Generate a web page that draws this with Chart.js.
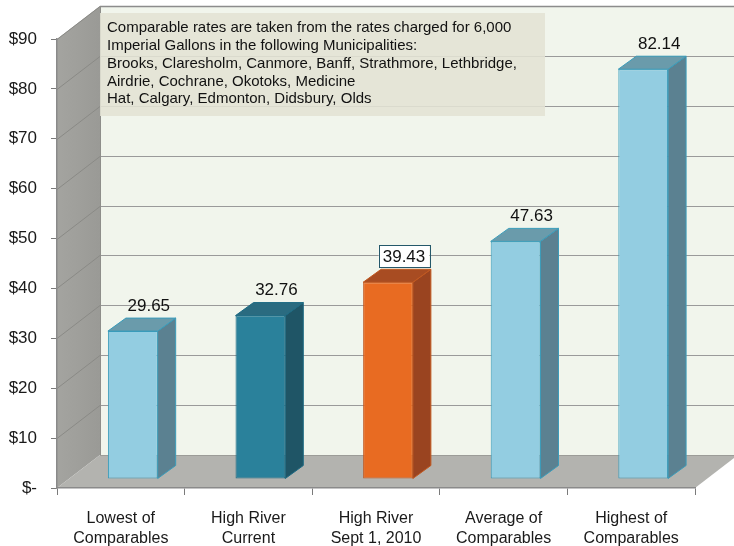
<!DOCTYPE html>
<html>
<head>
<meta charset="utf-8">
<script src="https://cdn.jsdelivr.net/npm/chart.js@4.4.1/dist/chart.umd.min.js"></script>
<style>
html, body { margin: 0; padding: 0; background: #fff; }
canvas { display: block; }
</style>
</head>
<body>
<canvas id="chart" width="734" height="546"></canvas>
<script>
const categories = [
    ["Lowest of", "Comparables"],
    ["High River", "Current"],
    ["High River", "Sept 1, 2010"],
    ["Average of", "Comparables"],
    ["Highest of", "Comparables"]
];
const rates = [29.65, 32.76, 39.43, 47.63, 82.14];
const yMax = 90;
const yStep = 10;
const noteLines = [
    "Comparable rates are taken from the rates charged for 6,000",
    "Imperial Gallons in the following Municipalities:",
    "Brooks, Claresholm, Canmore, Banff, Strathmore, Lethbridge,",
    "Airdrie, Cochrane, Okotoks, Medicine",
    "Hat, Calgary, Edmonton, Didsbury, Olds"
];
const boxedLabel = 2; // the proposed rate gets a framed label

const frontColors = ['#93cde1', '#2a819b', '#e86b22', '#93cde1', '#93cde1'];
const sideColors = ['#5b8191', '#1f5566', '#9a4420', '#5b8191', '#5b8191'];
const topColors = ['#6a9bab', '#2a6b80', '#a84c22', '#6a9bab', '#6a9bab'];
const edgeColors = ['#3a9cba', '#1d6a83', '#c2581f', '#3a9cba', '#3a9cba'];

const FONT = "'Liberation Sans', Arial, sans-serif";

// depth of the box (walls) and of the bars
const WALL_DX = 43, WALL_DY = -33;
const BAR_SHIFT_X = 12, BAR_SHIFT_Y = -9;
const BAR_DX = 18, BAR_DY = -13;

function poly(ctx, pts, fill, stroke) {
    ctx.beginPath();
    ctx.moveTo(pts[0][0], pts[0][1]);
    for (let i = 1; i < pts.length; i++) ctx.lineTo(pts[i][0], pts[i][1]);
    ctx.closePath();
    if (fill) { ctx.fillStyle = fill; ctx.fill(); }
    if (stroke) { ctx.strokeStyle = stroke; ctx.lineWidth = 1; ctx.stroke(); }
}

const box3d = {
    id: 'box3d',
    beforeDraw: function (chart) {
        const ctx = chart.ctx;
        const a = chart.chartArea;
        const y = chart.scales.y;
        const W = chart.width;

        ctx.save();
        // back wall
        ctx.fillStyle = '#f1f5ec';
        ctx.fillRect(a.left + WALL_DX, a.top + WALL_DY, W - a.left - WALL_DX, a.bottom - a.top);

        // left wall
        let g = ctx.createLinearGradient(a.left, 0, a.left + WALL_DX, 0);
        g.addColorStop(0, '#a4a4a0');
        g.addColorStop(1, '#9a9a96');
        poly(ctx, [[a.left, a.top], [a.left + WALL_DX, a.top + WALL_DY],
            [a.left + WALL_DX, a.bottom + WALL_DY], [a.left, a.bottom]], g);

        // floor
        poly(ctx, [[a.left, a.bottom], [a.left + WALL_DX, a.bottom + WALL_DY],
            [a.right + WALL_DX, a.bottom + WALL_DY], [a.right, a.bottom]], '#b3b3af');
        ctx.strokeStyle = '#9c9c98';
        ctx.lineWidth = 1;
        ctx.beginPath();
        ctx.moveTo(a.left + WALL_DX, a.bottom + WALL_DY + 0.5);
        ctx.lineTo(W, a.bottom + WALL_DY + 0.5);
        ctx.stroke();

        // gridlines on back and left walls
        y.ticks.forEach(function (t) {
            if (t.value <= 0) return;
            const py = Math.round(y.getPixelForValue(t.value)) + 0.5;
            ctx.strokeStyle = t.value >= yMax ? '#8c8c8c' : '#9a9a9a';
            ctx.lineWidth = t.value >= yMax ? 1.5 : 1;
            ctx.beginPath();
            ctx.moveTo(a.left + WALL_DX, py + WALL_DY);
            ctx.lineTo(W, py + WALL_DY);
            ctx.stroke();
            ctx.strokeStyle = '#8a8a86';
            ctx.lineWidth = 1;
            ctx.beginPath();
            ctx.moveTo(a.left, py);
            ctx.lineTo(a.left + WALL_DX, py + WALL_DY);
            ctx.stroke();
        });
        // edge between left and back wall
        ctx.strokeStyle = '#8e8e8a';
        ctx.beginPath();
        ctx.moveTo(a.left + WALL_DX + 0.5, a.top + WALL_DY);
        ctx.lineTo(a.left + WALL_DX + 0.5, a.bottom + WALL_DY);
        ctx.stroke();
        ctx.restore();
    },
    beforeDatasetsDraw: function (chart) {
        const ctx = chart.ctx;
        const a = chart.chartArea;

        // note panel on the back wall
        const bx = a.left + WALL_DX, by = a.top + WALL_DY + 7;
        ctx.save();
        ctx.fillStyle = 'rgba(226, 226, 212, 0.88)';
        ctx.fillRect(bx, by, 445, 103);
        ctx.fillStyle = '#111';
        ctx.font = '15px ' + FONT;
        ctx.textBaseline = 'middle';
        noteLines.forEach(function (line, i) {
            ctx.fillText(line, bx + 7, by + 15 + i * 17.8);
        });
        ctx.restore();

        // bars sit in the middle of the floor depth
        ctx.save();
        ctx.translate(BAR_SHIFT_X, BAR_SHIFT_Y);
    },
    afterDatasetsDraw: function (chart) {
        const ctx = chart.ctx;
        const meta = chart.getDatasetMeta(0);
        meta.data.forEach(function (el, i) {
            const half = el.width / 2;
            const l = el.x - half, r = el.x + half, t = el.y, b = el.base;
            poly(ctx, [[r, t], [r + BAR_DX, t + BAR_DY], [r + BAR_DX, b + BAR_DY], [r, b]],
                sideColors[i], edgeColors[i]);
            poly(ctx, [[l, t], [l + BAR_DX, t + BAR_DY], [r + BAR_DX, t + BAR_DY], [r, t]],
                topColors[i], edgeColors[i]);
        });

        ctx.font = '17px ' + FONT;
        ctx.textAlign = 'center';
        ctx.textBaseline = 'middle';
        meta.data.forEach(function (el, i) {
            const lx = el.x + 16;
            const ly = el.y + BAR_DY - 13;
            const text = rates[i].toFixed(2);
            if (i === boxedLabel) {
                const w = ctx.measureText(text).width + 8;
                ctx.fillStyle = '#ffffff';
                ctx.fillRect(lx - w / 2, ly - 11, w, 22);
                ctx.strokeStyle = '#24586a';
                ctx.lineWidth = 1;
                ctx.strokeRect(Math.round(lx - w / 2) + 0.5, Math.round(ly - 11) + 0.5, Math.round(w), 22);
            }
            ctx.fillStyle = '#111';
            ctx.fillText(text, lx, ly + 1);
        });
        ctx.restore();
    }
};

new Chart(document.getElementById('chart'), {
    type: 'bar',
    data: {
        labels: categories,
        datasets: [{
            data: rates,
            backgroundColor: frontColors,
            borderColor: edgeColors,
            borderWidth: 1,
            borderSkipped: false,
            categoryPercentage: 1,
            barPercentage: 0.39
        }]
    },
    options: {
        responsive: false,
        animation: false,
        layout: { padding: { top: 39, right: 39, left: 0, bottom: 0 } },
        plugins: {
            legend: { display: false },
            tooltip: { enabled: false }
        },
        scales: {
            x: {
                grid: { drawOnChartArea: false, tickLength: 7, color: '#7a7a7a' },
                border: { color: '#8a8a8a', width: 1.5 },
                ticks: {
                    color: '#1a1a1a',
                    font: { family: FONT, size: 16, lineHeight: 1.25 },
                    padding: 14,
                    maxRotation: 0
                },
                afterFit: function (scale) { scale.height = 58; }
            },
            y: {
                min: 0,
                max: yMax,
                grid: { drawOnChartArea: false, tickLength: 6, color: '#7a7a7a' },
                border: { color: '#8a8a8a', width: 1.5 },
                ticks: {
                    stepSize: yStep,
                    color: '#1a1a1a',
                    font: { family: FONT, size: 17 },
                    padding: 14,
                    callback: function (v) { return v === 0 ? '$-' : '$' + v; }
                },
                afterFit: function (scale) { scale.width = 57; }
            }
        }
    },
    plugins: [box3d]
});
</script>
</body>
</html>
